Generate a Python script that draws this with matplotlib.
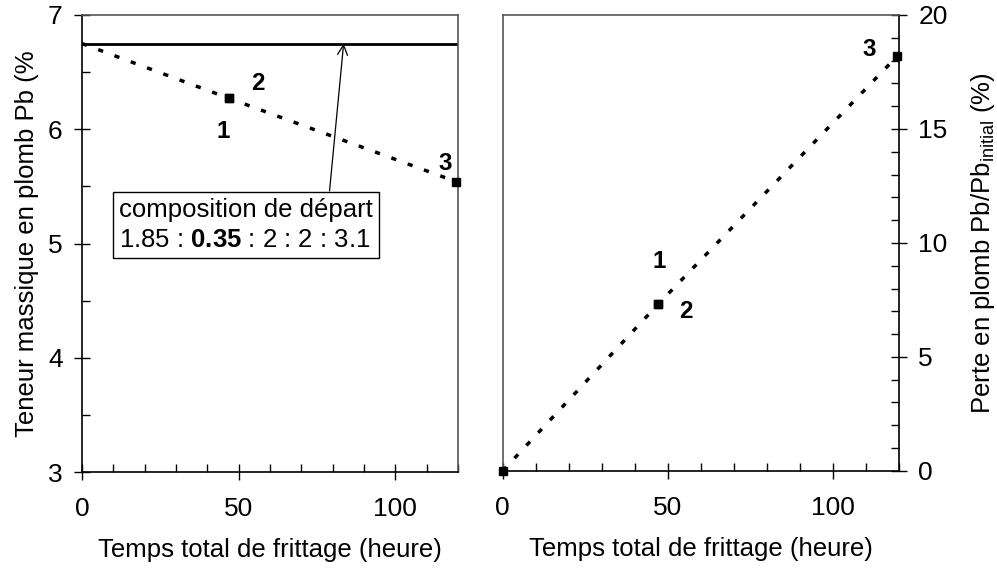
import matplotlib
matplotlib.use("Agg")
import matplotlib.pyplot as plt
from matplotlib.ticker import MultipleLocator

plt.rcParams['font.family'] = ['Liberation Sans', 'DejaVu Sans']
plt.rcParams['mathtext.fontset'] = 'custom'
plt.rcParams['mathtext.rm'] = 'Liberation Sans'
plt.rcParams['mathtext.bf'] = 'Liberation Sans:bold'

# data
temps = [0, 47, 47, 119.5]
teneur_pb = [6.75, 6.27, 6.27, 5.54]
perte_pb = [0, 7.3, 7.3, 18.2]
depart = 6.75
labels_left = ["1", "2", "3"]
labels_right = ["1", "2", "3"]

fig = plt.figure(figsize=(9.97, 5.68), dpi=100)
ax1 = fig.add_axes([0.0822, 0.169, 0.3772, 0.8046])
ax2 = fig.add_axes([0.5042, 0.171, 0.3975, 0.8026])

fs_tick = 19
fs_lab = 18.5
fs_num = 17.5

def style_axis(ax):
    ax.set_xlim(0, 120)
    ax.xaxis.set_major_locator(MultipleLocator(50))
    ax.xaxis.set_minor_locator(MultipleLocator(10))
    ax.tick_params(which='major', direction='inout', length=12, width=1,
                   labelsize=fs_tick, pad=12)
    ax.tick_params(which='minor', direction='in', length=6, width=1)
    for s in ax.spines.values():
        s.set_linewidth(1.2)
    ax.set_xlabel("Temps total de frittage (heure)", fontsize=fs_lab, labelpad=12)

# left panel
style_axis(ax1)
ax1.set_ylim(3, 7)
ax1.yaxis.set_major_locator(MultipleLocator(1))
ax1.yaxis.set_minor_locator(MultipleLocator(0.5))
ax1.tick_params(axis='y', which='major', pad=8)
ax1.spines['right'].set_color('#555555')
ax1.spines['top'].set_color('#555555')
ax1.axhline(depart, color='black', lw=2)
ax1.plot(temps, teneur_pb, color='black', lw=2.5, linestyle=(0, (1.5, 3.5)),
         marker='s', markersize=6, markevery=[1, 2, 3], clip_on=False, zorder=3)
ax1.set_ylabel("Teneur massique en plomb Pb (%", fontsize=fs_lab, labelpad=6)
ax1.text(45, 5.98, labels_left[0], fontsize=fs_num, fontweight='bold', ha='center', va='center')
ax1.text(56, 6.4, labels_left[1], fontsize=fs_num, fontweight='bold', ha='center', va='center')
ax1.text(116, 5.7, labels_left[2], fontsize=fs_num, fontweight='bold', ha='center', va='center')

ax1.text(11.8, 5.16, "composition de départ\n1.85 : $\\mathbf{0.35}$ : 2 : 2 : 3.1",
         fontsize=18.5, ha='left', va='center', linespacing=1.3,
         bbox=dict(boxstyle='square,pad=0.25', fc='white', ec='black', lw=1))
ax1.annotate("", xy=(83.5, depart), xytext=(79, 5.46),
             arrowprops=dict(arrowstyle='->', lw=0.9, color='black',
                             mutation_scale=18, shrinkA=0, shrinkB=0))

# right panel
style_axis(ax2)
ax2.set_ylim(0, 20)
ax2.yaxis.set_major_locator(MultipleLocator(5))
ax2.yaxis.set_minor_locator(MultipleLocator(1))
ax2.yaxis.tick_right()
ax2.yaxis.set_label_position('right')
ax2.tick_params(axis='y', which='major', pad=8)
ax2.spines['left'].set_color('#555555')
ax2.spines['top'].set_color('#555555')
ax2.plot(temps, perte_pb, color='black', lw=2.5, linestyle=(0, (1.5, 3.5)),
         marker='s', markersize=6, clip_on=False, zorder=3)
ax2.set_ylabel("Perte en plomb Pb/Pb$_{\\mathrm{initial}}$ (%)", fontsize=fs_lab, labelpad=15)
ax2.text(47.5, 9.2, labels_right[0], fontsize=fs_num, fontweight='bold', ha='center', va='center')
ax2.text(55.5, 7.0, labels_right[1], fontsize=fs_num, fontweight='bold', ha='center', va='center')
ax2.text(111, 18.5, labels_right[2], fontsize=fs_num, fontweight='bold', ha='center', va='center')

fig.savefig("out.png", dpi=100)
